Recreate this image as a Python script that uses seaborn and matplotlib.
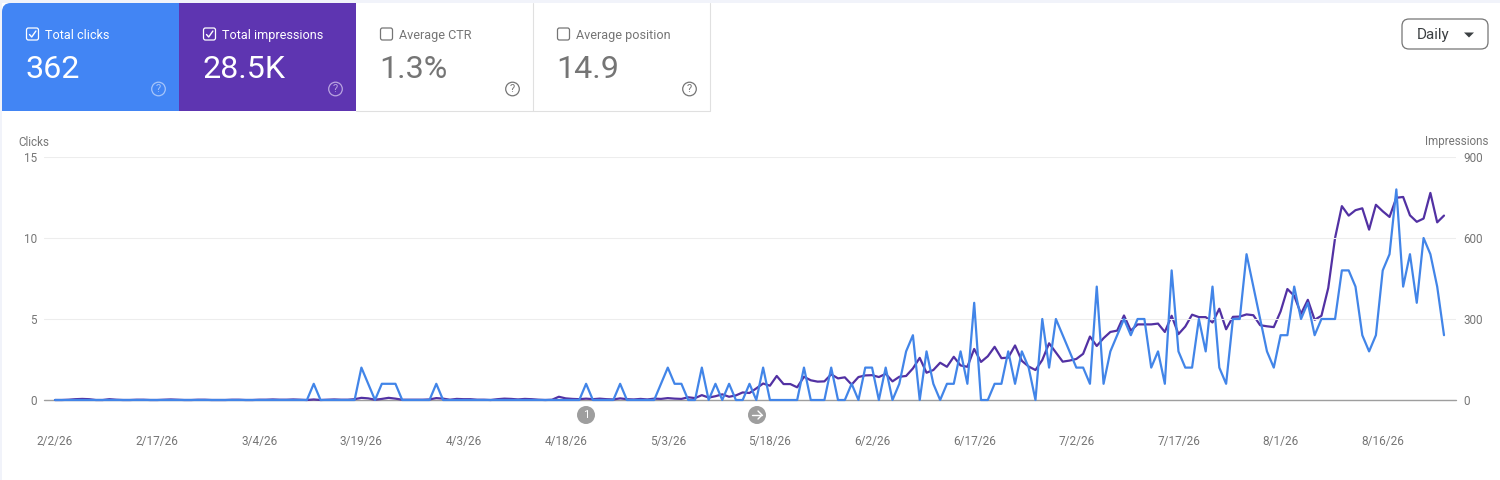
import matplotlib
matplotlib.use("Agg")
import matplotlib.pyplot as plt
from matplotlib.patches import Rectangle, Circle, FancyBboxPatch, Polygon, PathPatch
from matplotlib.path import Path
import matplotlib.dates as mdates
import pandas as pd
import seaborn as sns

clicks = [
    0,0,0,0,0,0,0,0,0,0,
    0,0,0,0,0,0,0,0,0,0,
    0,0,0,0,0,0,0,0,0,0,
    0,0,0,0,0,0,0,0,1,0,
    0,0,0,0,0,2,1,0,1,1,
    1,0,0,0,0,0,1,0,0,0,
    0,0,0,0,0,0,0,0,0,0,
    0,0,0,0,0,0,0,0,1,0,
    0,0,0,1,0,0,0,0,0,1,
    2,1,1,0,0,2,0,1,0,1,
    0,0,1,0,2,0,0,0,0,0,
    2,0,0,0,2,0,0,1,0,2,
    2,0,2,0,1,3,4,0,3,1,
    0,1,1,3,1,6,0,0,1,1,
    3,1,3,2,0,5,2,5,4,3,
    2,2,1,7,1,3,4,5,4,5,
    5,2,3,1,8,3,2,2,5,3,
    7,2,1,5,5,9,7,5,3,2,
    4,4,7,5,6,4,5,5,5,8,
    8,7,4,3,4,8,9,13,7,9,
    6,10,9,7,4,
]
impressions = [
    0,0,1,3,4,3,0,0,3,1,
    0,0,1,1,0,0,1,2,1,0,
    0,1,1,0,0,0,1,1,0,0,
    1,1,2,1,1,2,1,0,2,0,
    1,2,1,1,3,8,6,1,4,8,
    5,1,1,1,1,2,7,5,1,4,
    3,3,1,1,0,3,5,4,2,4,
    3,1,0,1,12,6,4,3,5,3,
    5,3,2,6,3,2,4,2,5,4,
    7,5,4,10,7,18,9,14,21,12,
    17,28,26,43,61,53,89,59,59,47,
    86,73,68,69,95,80,84,57,85,91,
    92,85,97,69,86,89,117,156,101,111,
    138,123,160,128,123,189,141,162,197,155,
    157,202,145,124,111,148,210,176,142,146,
    152,171,235,200,229,252,257,313,257,280,
    280,280,283,252,312,244,272,316,307,307,
    287,338,262,308,309,317,314,277,273,270,
    328,411,386,319,371,297,312,415,600,718,
    683,703,710,631,723,699,678,749,752,684,
    660,672,767,658,683,
]
start_date = "2026-02-02"
x_tick_dates = ["2026-02-02","2026-02-17","2026-03-04","2026-03-19","2026-04-03",
                "2026-04-18","2026-05-03","2026-05-18","2026-06-02","2026-06-17",
                "2026-07-02","2026-07-17","2026-08-01","2026-08-16"]
x_tick_labels = ["2/2/26","2/17/26","3/4/26","3/19/26","4/3/26","4/18/26","5/3/26",
                 "5/18/26","6/2/26","6/17/26","7/2/26","7/17/26","8/1/26","8/16/26"]
click_ticks = [0, 5, 10, 15]
impression_ticks = [0, 300, 600, 900]
card_titles = ["Total clicks", "Total impressions", "Average CTR", "Average position"]
card_values = ["362", "28.5K", "1.3%", "14.9"]

BLUE, PURPLE = "#4285f4", "#5e35b1"
LINE_BLUE, LINE_PURPLE = "#4285e8", "#5231a3"
GRAY = "#757575"

sns.set_theme(style="white")
plt.rcParams["font.family"] = ["Roboto", "DejaVu Sans"]

W, H = 1500, 480
fig = plt.figure(figsize=(15, 4.8), dpi=100, facecolor="white")

# UI layer in pixel coordinates
ui = fig.add_axes([0, 0, 1, 1], zorder=0)
ui.set_xlim(0, W); ui.set_ylim(H, 0); ui.axis("off")
ui.add_patch(Rectangle((0, 0), W, 3, fc="#f1f3fa", ec="none"))
ui.add_patch(Rectangle((0, 0), 2, H, fc="#f1f3fa", ec="none"))

# cards
card_x = [2, 179, 356, 533]
card_w = 177
verts = [(2, 111), (2, 12), (2, 3), (11, 3), (179, 3), (179, 111), (2, 111)]
codes = [Path.MOVETO, Path.LINETO, Path.CURVE3, Path.CURVE3, Path.LINETO, Path.LINETO, Path.CLOSEPOLY]
ui.add_patch(PathPatch(Path(verts, codes), fc=BLUE, ec="none"))
ui.add_patch(Rectangle((179, 3), card_w, 108, fc=PURPLE, ec="none"))
ui.plot([356, 710, 710], [110.5, 110.5, 3], color="#e0e0e0", lw=0.8)
ui.plot([533, 533], [3, 110.5], color="#e0e0e0", lw=0.8)

for i, (cx, title, value) in enumerate(zip(card_x, card_titles, card_values)):
    active = i < 2
    fg = "white" if active else GRAY
    bx = cx + 24.5
    ui.add_patch(FancyBboxPatch((bx + 1, 29), 10, 10, boxstyle="round,pad=1,rounding_size=2",
                                fc="none", ec=fg, lw=0.9))
    if active:
        ui.plot([bx + 3, bx + 5.2, bx + 9.4], [34.5, 37, 31], color=fg, lw=1.0)
    ui.text(cx + 43, 35.2, title, color=fg, fontsize=9.1, va="center", ha="left")
    ui.text(cx + 23.5, 70, value, color=fg, fontsize=23.2, va="center", ha="left")
    hc = {0: "#a6c5fa", 1: "#b9a4e0"}.get(i, GRAY)
    hx = cx + 156.5
    ui.add_patch(Circle((hx, 89), 6.8, fc="none", ec=hc, lw=0.9))
    ui.text(hx, 89.2, "?", color=hc, fontsize=8, ha="center", va="center")

# dropdown
ui.add_patch(FancyBboxPatch((1402, 19), 86, 30, boxstyle="round,pad=0,rounding_size=7",
                            fc="white", ec="#757575", lw=0.9))
ui.text(1417, 34.5, "Daily", color="#3c4043", fontsize=11, va="center", ha="left")
ui.add_patch(Polygon([(1464, 32.5), (1474, 32.5), (1469, 37.5)], fc="#3c4043", ec="none"))

# axis captions
ui.text(18, 142, "Clicks", color=GRAY, fontsize=8.4, va="center", ha="left")
ui.text(1488, 142, "Impressions", color=GRAY, fontsize=8.4, va="center", ha="right")

# event markers
ui.add_patch(Circle((586, 415), 9, fc="#9e9e9e", ec="none"))
ui.text(586, 415, "1", color="white", fontsize=8, ha="center", va="center")
ui.add_patch(Circle((757, 415), 9, fc="#9e9e9e", ec="none"))
ui.plot([752, 762], [415, 415], color="white", lw=1.0)
ui.plot([758, 762, 758], [411, 415, 419], color="white", lw=1.0)

# chart
df = pd.DataFrame({
    "date": pd.date_range(start_date, periods=len(clicks), freq="D"),
    "clicks": clicks,
    "impressions": impressions,
})
L, R, T, B = 44, 1456, 157, 400
ax = fig.add_axes([L / W, 1 - B / H, (R - L) / W, (B - T) / H], zorder=2)
ax2 = ax.twinx()
ax2.set_zorder(1); ax.set_zorder(2)
ax.patch.set_visible(False); ax2.patch.set_visible(False)

sns.lineplot(data=df, x="date", y="impressions", ax=ax2, color=LINE_PURPLE, linewidth=1.6,
             estimator=None, errorbar=None, clip_on=False)
sns.lineplot(data=df, x="date", y="clicks", ax=ax, color=LINE_BLUE, linewidth=1.6,
             estimator=None, errorbar=None, clip_on=False)

px_per_day = (1444 - 55) / 204.0
d0 = mdates.date2num(pd.Timestamp(start_date))
ax.set_xlim(d0 - (55 - L) / px_per_day, d0 + 204 + (R - 1444) / px_per_day)
ax.set_ylim(0, 15); ax2.set_ylim(0, 900)
ax.set_xlabel(""); ax.set_ylabel(""); ax2.set_ylabel("")
ax.set_xticks([mdates.date2num(pd.Timestamp(d)) for d in x_tick_dates])
ax.set_xticklabels(x_tick_labels)
ax.set_yticks(click_ticks); ax2.set_yticks(impression_ticks)
ax.tick_params(axis="x", length=0, pad=25, labelsize=8.5, labelcolor=GRAY)
ax.tick_params(axis="y", length=0, pad=5, labelsize=8.4, labelcolor=GRAY)
ax2.tick_params(axis="y", length=0, pad=5, labelsize=8.4, labelcolor=GRAY)
ax.grid(axis="y", color="#ededed", lw=0.8); ax.grid(axis="x", visible=False)
ax2.grid(False)
ax.set_axisbelow(True)
for a in (ax, ax2):
    for s in a.spines.values():
        s.set_visible(False)
ax2.axhline(0, color="#9e9e9e", lw=1.0, zorder=0.5, clip_on=False)

fig.savefig("out.png", dpi=100, facecolor="white")
